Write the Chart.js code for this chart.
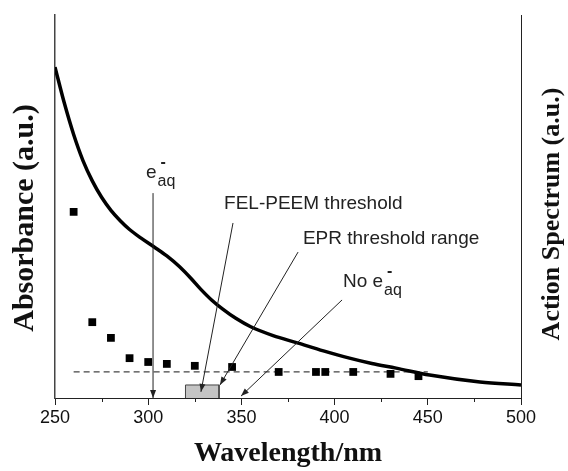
<!DOCTYPE html>
<html>
<head>
<meta charset="utf-8">
<script src="https://cdn.jsdelivr.net/npm/chart.js@4.4.1/dist/chart.umd.min.js"></script>
<style>
  html, body { margin: 0; padding: 0; background: #fff; }
  #wrap { width: 568px; height: 471px; }
</style>
</head>
<body>
<div id="wrap"><canvas id="Chart1"></canvas></div>
<script>
// absorbance curve (black line)
const absWl  = [250, 255, 260, 265, 270, 275, 280, 285, 290, 296, 303, 310, 317, 323, 328, 334, 340, 347, 355, 367, 380, 394, 408, 420, 433, 451, 478, 500];
const absVal = [86.4, 77.0, 68.8, 62.0, 56.7, 52.4, 49.0, 46.3, 44.0, 41.8, 39.5, 37.1, 34.2, 31.2, 28.5, 25.6, 23.2, 20.8, 18.6, 16.3, 14.4, 12.3, 10.4, 9.0, 7.8, 6.0, 4.2, 3.4];

// action spectrum (squares)
const actWl  = [260, 270, 280, 290, 300, 310, 325, 345, 370, 390, 395, 410, 430, 445];
const actVal = [48.6, 19.8, 15.7, 10.4, 9.4, 8.9, 8.4, 8.1, 6.8, 6.8, 6.8, 6.8, 6.3, 5.7];

// dashed baseline and EPR threshold range box
const baseWl = [260, 450];
const baseVal = 6.8;
const eprRange = [320, 338];
const eprHeight = 3.4;

// x axis ticks
const majorTicks = [250, 300, 350, 400, 450, 500];
const minorTicks = [275, 325, 375, 425, 475];

// annotations: [wavelength, value] of line start and arrow tip
const arrows = [
    { from: [302.6, 53.5], to: [302.6, 0.0] },   // e_aq
    { from: [345.5, 45.7], to: [328.3, 1.6] },   // FEL-PEEM threshold
    { from: [380.4, 38.1], to: [338.5, 3.4] },   // EPR threshold range
    { from: [404.0, 25.6], to: [349.8, 0.5] }    // No e_aq
];
const labels = [
    { at: [298.8, 57.4], text: '', eaq: true },
    { at: [340.7, 49.3], text: 'FEL-PEEM threshold' },
    { at: [383.0, 40.2], text: 'EPR threshold range' },
    { at: [404.5, 29.0], text: 'No ', eaq: true }
];

const sans = '"Liberation Sans", Arial, sans-serif';
const serif = '"Liberation Serif", "Times New Roman", serif';

// draws minor ticks, arrows, text labels and the two y titles
const annotate = {
    id: 'annotate',
    afterDatasetsDraw(chart) {
        const c = chart.ctx;
        const xs = chart.scales.x, ys = chart.scales.y;
        const bottom = chart.chartArea.bottom;
        c.save();
        // minor ticks
        c.strokeStyle = '#222';
        c.lineWidth = 1;
        minorTicks.forEach(v => {
            const px = Math.round(xs.getPixelForValue(v)) + 0.5;
            c.beginPath();
            c.moveTo(px, bottom);
            c.lineTo(px, bottom + 4);
            c.stroke();
        });
        // arrows
        c.fillStyle = '#222';
        arrows.forEach(a => {
            const x1 = xs.getPixelForValue(a.from[0]), y1 = ys.getPixelForValue(a.from[1]);
            const x2 = xs.getPixelForValue(a.to[0]), y2 = ys.getPixelForValue(a.to[1]);
            c.beginPath();
            c.moveTo(x1, y1);
            c.lineTo(x2, y2);
            c.stroke();
            const ang = Math.atan2(y2 - y1, x2 - x1);
            const len = 8, w = 3;
            c.beginPath();
            c.moveTo(x2, y2);
            c.lineTo(x2 - len * Math.cos(ang) + w * Math.sin(ang), y2 - len * Math.sin(ang) - w * Math.cos(ang));
            c.lineTo(x2 - len * Math.cos(ang) - w * Math.sin(ang), y2 - len * Math.sin(ang) + w * Math.cos(ang));
            c.closePath();
            c.fill();
        });
        // labels
        c.textBaseline = 'alphabetic';
        c.textAlign = 'left';
        labels.forEach(l => {
            let px = xs.getPixelForValue(l.at[0]);
            const py = ys.getPixelForValue(l.at[1]);
            c.font = '19px ' + sans;
            c.fillText(l.text, px, py);
            px += c.measureText(l.text).width;
            if (l.eaq) {
                c.fillText('e', px, py);
                px += c.measureText('e').width + 1;
                c.font = '16px ' + sans;
                c.fillText('aq', px, py + 8);
                c.font = 'bold 16px ' + sans;
                c.fillText('-', px + 3, py - 11);
            }
        });
        // y titles, both reading bottom to top
        c.fillStyle = '#111';
        c.textAlign = 'center';
        c.textBaseline = 'middle';
        c.save();
        c.translate(25, 218);
        c.rotate(-Math.PI / 2);
        c.font = 'bold 30px ' + serif;
        c.fillText('Absorbance (a.u.)', 0, 0);
        c.restore();
        c.save();
        c.translate(552, 214);
        c.rotate(-Math.PI / 2);
        c.font = 'bold 26px ' + serif;
        c.fillText('Action Spectrum (a.u.)', 0, 0);
        c.restore();
        c.restore();
    }
};

const ctx = document.getElementById('Chart1').getContext('2d');
const Chart1 = new Chart(ctx, {
    data: {
        datasets: [{
            type: 'line',
            label: 'Absorbance',
            data: absWl.map((w, i) => ({ x: w, y: absVal[i] })),
            borderColor: '#000',
            borderWidth: 3.5,
            pointRadius: 0,
            cubicInterpolationMode: 'monotone',
            fill: false,
            order: 1
        }, {
            type: 'scatter',
            label: 'Action spectrum',
            yAxisID: 'y2',
            data: actWl.map((w, i) => ({ x: w, y: actVal[i] })),
            pointStyle: 'rect',
            pointRadius: 5.5,
            pointBorderWidth: 0,
            backgroundColor: '#000',
            order: 0
        }, {
            type: 'line',
            label: 'baseline',
            yAxisID: 'y2',
            data: baseWl.map(w => ({ x: w, y: baseVal })),
            borderColor: '#444',
            borderWidth: 1.2,
            borderDash: [6, 4],
            pointRadius: 0,
            fill: false,
            order: 2
        }, {
            type: 'line',
            label: 'EPR range',
            data: [
                { x: eprRange[0], y: 0 },
                { x: eprRange[0], y: eprHeight },
                { x: eprRange[1], y: eprHeight },
                { x: eprRange[1], y: 0 }
            ],
            borderColor: '#444',
            borderWidth: 1,
            backgroundColor: '#c4c4c4',
            pointRadius: 0,
            tension: 0,
            fill: 'origin',
            order: 5
        }]
    },
    options: {
        responsive: true,
        maintainAspectRatio: false,
        animation: false,
        layout: { padding: { top: 15, left: 0, right: 0, bottom: 0 } },
        plugins: {
            legend: { display: false },
            tooltip: { enabled: false }
        },
        scales: {
            x: {
                type: 'linear',
                min: 250,
                max: 500,
                afterBuildTicks: s => { s.ticks = majorTicks.map(v => ({ value: v })); },
                afterFit: s => { s.height = 73; },
                ticks: { color: '#111', font: { family: sans, size: 18 }, padding: 2, maxRotation: 0 },
                grid: { drawOnChartArea: false, tickLength: 7, color: '#222' },
                border: { display: true, color: '#222', width: 1 },
                title: {
                    display: true,
                    text: 'Wavelength/nm',
                    color: '#111',
                    font: { family: serif, size: 28, weight: 'bold' },
                    padding: { top: 0, bottom: 0 }
                }
            },
            y: {
                position: 'left',
                min: 0,
                max: 100,
                afterFit: s => { s.width = 55; },
                ticks: { display: false },
                grid: { display: false },
                border: { display: true, color: '#444', width: 1.5 },
                title: { display: false }
            },
            y2: {
                position: 'right',
                min: 0,
                max: 100,
                afterFit: s => { s.width = 47; },
                ticks: { display: false },
                grid: { display: false },
                border: { display: true, color: '#222', width: 1 },
                title: { display: false }
            }
        }
    },
    plugins: [annotate]
});
</script>
</body>
</html>
